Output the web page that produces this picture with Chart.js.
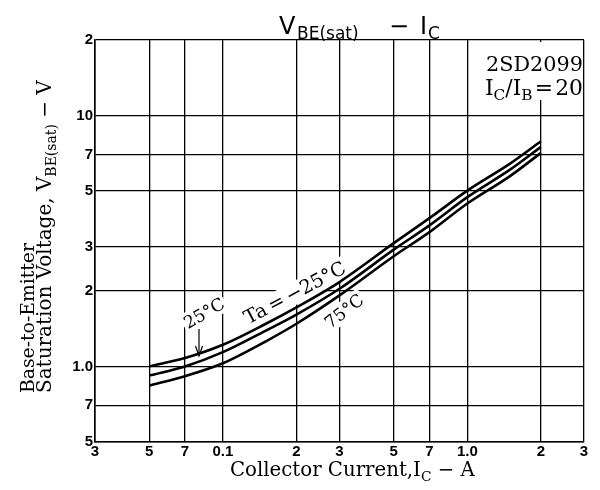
<!DOCTYPE html>
<html><head><meta charset="utf-8">
<script src="https://cdn.jsdelivr.net/npm/chart.js@4/dist/chart.umd.min.js"></script>
<style>html,body{margin:0;padding:0;background:#fff}#wrap{width:600px;height:490px;position:relative}</style>
</head><body><div id="wrap"><canvas id="c" width="600" height="490"></canvas></div>
<script>
// ---- data ----
const currents   = [0.05, 0.07, 0.1, 0.15, 0.2, 0.3, 0.5, 0.7, 1.0, 1.5, 2.0];
const vbeMinus25 = [1.0, 1.08, 1.22, 1.48, 1.72, 2.17, 3.1, 3.9, 5.02, 6.45, 7.9];
const vbe25      = [0.92, 1.0, 1.14, 1.39, 1.61, 2.04, 2.92, 3.65, 4.73, 6.1, 7.5];
const vbe75      = [0.84, 0.915, 1.03, 1.26, 1.48, 1.92, 2.75, 3.43, 4.46, 5.75, 7.1];
const xTicks      = [0.03, 0.05, 0.07, 0.1, 0.2, 0.3, 0.5, 0.7, 1, 2, 3];
const xTickLabels = ['3', '5', '7', '0.1', '2', '3', '5', '7', '1.0', '2', '3'];
const yTicks      = [0.5, 0.7, 1, 2, 3, 5, 7, 10, 20];
const yTickLabels = ['5', '7', '1.0', '2', '3', '5', '7', '10', '2'];

const SERIF = '"DejaVu Serif", "Liberation Serif", serif';
const SANS = '"DejaVu Sans", "Liberation Sans", sans-serif';

function series(vals){ return currents.map((x,i)=>({x:x, y:vals[i]})); }
function ds(label, vals){
  return {label:label, data:series(vals), borderColor:'#000', borderWidth:2.6,
    pointRadius:0, fill:false, cubicInterpolationMode:'monotone'};
}

function partsWidth(ctx, parts, size, family){
  let w=0;
  parts.forEach(p=>{ctx.font=(p[1]*size)+'px '+family; w+=ctx.measureText(p[0]).width;});
  return w;
}
function drawParts(ctx, parts, x, y, targetW, family, guess){
  let size = guess;
  const w = partsWidth(ctx, parts, size, family);
  size = size*targetW/w;
  let cx=x;
  parts.forEach(p=>{
    ctx.font=(p[1]*size)+'px '+family;
    ctx.fillText(p[0], cx, y + (p[2]||0)*size);
    cx += ctx.measureText(p[0]).width;
  });
  return size;
}

const annot = {
  id:'annot',
  beforeDatasetsDraw(chart){
    const ctx = chart.ctx;
    ctx.save();
    ctx.fillStyle='#fff';
    ctx.fillRect(478, 42, 105, 58);
    const boxes = [
      [204, 313, -30, 48, 20],
      [295, 293, -28, 118, 22],
      [344, 311, -38, 48, 20]
    ];
    boxes.forEach(b=>{
      ctx.save(); ctx.translate(b[0], b[1]); ctx.rotate(b[2]*Math.PI/180);
      ctx.fillRect(-b[3]/2, -b[4]/2, b[3], b[4]); ctx.restore();
    });
    ctx.restore();
  },
  afterDraw(chart){
    const ctx = chart.ctx;
    ctx.save();
    ctx.fillStyle='#000'; ctx.strokeStyle='#000';
    ctx.textBaseline='alphabetic'; ctx.textAlign='left';

    // Title: V_BE(sat) − I_C
    ctx.font='24px '+SANS; ctx.fillText('V', 279, 34);
    ctx.font='17px '+SANS; ctx.fillText('BE(sat)', 297, 39);
    ctx.font='24px '+SANS; ctx.fillText('\u2212', 389, 34);
    ctx.font='24px '+SANS; ctx.fillText('I', 420, 34);
    ctx.font='17px '+SANS; ctx.fillText('C', 428, 39);

    drawParts(ctx, [['2SD2099',1,0]], 486, 71, 97, SERIF, 17);
    drawParts(ctx, [['I',1,0],['C',0.7,0.25],['/I',1,0],['B',0.7,0.25],['\u200A=\u200A20',1,0]], 485, 95, 98, SERIF, 17);

    drawParts(ctx, [['Collector Current,I',1,0],['C',0.7,0.25],[' \u2212 A',1,0]], 230, 476, 245, SERIF, 18);

    ctx.save(); ctx.translate(34, 393); ctx.rotate(-Math.PI/2);
    drawParts(ctx, [['Base-to-Emitter',1,0]], 0, 0, 150, SERIF, 18);
    ctx.restore();
    ctx.save(); ctx.translate(51, 393); ctx.rotate(-Math.PI/2);
    drawParts(ctx, [['Saturation Voltage, V',1,0],['BE(sat)',0.7,0.25],[' \u2212 V',1,0]], 0, 0, 313, SERIF, 18);
    ctx.restore();

    function rotLabel(parts, cx, cy, ang, w, guess){
      ctx.save(); ctx.translate(cx, cy); ctx.rotate(ang*Math.PI/180);
      drawParts(ctx, parts, -w/2, 6, w, SERIF, guess);
      ctx.restore();
    }
    rotLabel([['25\u00B0C',1,0]], 204, 313, -30, 44, 18);
    rotLabel([['Ta\u2009=\u2009\u221225\u00B0C',1,0]], 295, 293, -28, 112, 18);
    rotLabel([['75\u00B0C',1,0]], 344, 311, -38, 44, 18);

    ctx.lineWidth=1.2;
    ctx.beginPath(); ctx.moveTo(199, 329); ctx.lineTo(199, 356); ctx.stroke();
    ctx.beginPath(); ctx.moveTo(195.5, 346); ctx.lineTo(199, 356); ctx.lineTo(202.5, 346); ctx.stroke();
    ctx.restore();
  }
};

const tickFont = {family:'"Liberation Sans", Arial, sans-serif', size:15, weight:'bold'};

new Chart(document.getElementById('c').getContext('2d'), {
  type:'line',
  data:{datasets:[ds('Ta=-25°C', vbeMinus25), ds('25°C', vbe25), ds('75°C', vbe75)]},
  options:{
    responsive:false, animation:false,
    layout:{padding:{left:0, right:16, top:40, bottom:0}},
    plugins:{legend:{display:false}, tooltip:{enabled:false}, title:{display:false}},
    scales:{
      x:{type:'logarithmic', min:0.03, max:3,
        afterBuildTicks:s=>{s.ticks = xTicks.map(v=>({value:v}));},
        afterFit:s=>{s.height=48;},
        ticks:{autoSkip:false, maxRotation:0, minRotation:0, color:'#000', font:tickFont, padding:1,
          callback:(v,i)=>xTickLabels[i]},
        grid:{color:'#000', lineWidth:1.3, drawTicks:false},
        border:{color:'#000', width:1.6}},
      y:{type:'logarithmic', min:0.5, max:20,
        afterBuildTicks:s=>{s.ticks = yTicks.map(v=>({value:v}));},
        afterFit:s=>{s.width=95;},
        ticks:{autoSkip:false, color:'#000', font:tickFont, padding:2,
          callback:(v,i)=>yTickLabels[i]},
        grid:{color:'#000', lineWidth:1.3, drawTicks:false},
        border:{color:'#000', width:1.6}}
    }
  },
  plugins:[annot]
});
</script>
</body></html>
